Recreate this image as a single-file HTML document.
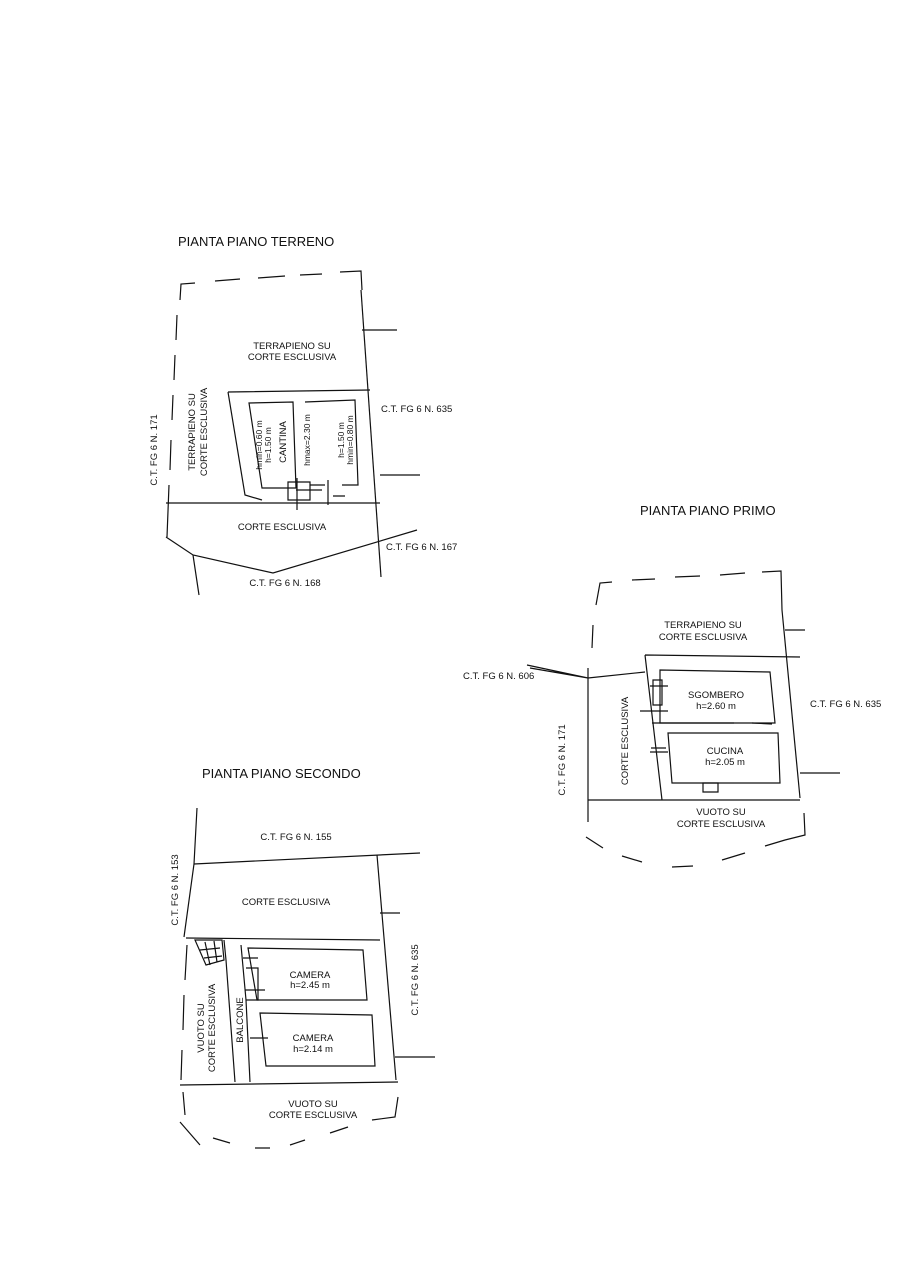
<!DOCTYPE html>
<html><head><meta charset="utf-8"><style>
html,body{margin:0;padding:0;background:#fff;}
svg{display:block}
text{font-family:"Liberation Sans",Arial,sans-serif;fill:#111;}
.s{font-size:9.5px}
.t{font-size:13px}
</style></head><body>
<svg width="904" height="1280" viewBox="0 0 904 1280" xmlns="http://www.w3.org/2000/svg">
<g stroke="#111" stroke-width="1.2" fill="none">
<!-- PLAN 1 -->
<path d="M180,300 L181,284 L195,283" />
<path d="M215,281 L240,279 M258,278 L285,276 M300,275 L322,274 M340,272 L361,271 L362,290"/>
<path d="M177,315 L176,340 M175,355 L174,380 M173,395 L172,420 M171,440 L170,470 M169,485 L167,537"/>
<path d="M361,290 L381,577"/>
<path d="M362,330 L397,330 M380,475 L420,475"/>
<path d="M166,503 L380,503"/>
<path d="M166,537 L193,555 L273,573 L417,530"/>
<path d="M193,555 L199,595"/>
<path d="M228,392 L370,390 M228,392 L245,495 L262,500"/>
<path d="M249,403 L293,402 L296,488 L262,488 Z"/>
<path d="M305,402 L355,400 L358,485 L342,485 M325,485 L310,485 Z"/>
<path d="M288,482 L310,482 L310,500 L288,500 Z M296,490 L322,490"/>
<path d="M297,478 L297,510 M328,480 L328,505 M333,496 L345,496"/>
<!-- PLAN 2 -->
<path d="M596,605 L600,583 L612,582"/>
<path d="M632,580 L655,579 M675,577 L700,576 M720,575 L745,573 M762,572 L781,571 L782,610"/>
<path d="M593,625 L592,648"/>
<path d="M782,610 L800,798"/>
<path d="M785,630 L805,630 M800,773 L840,773"/>
<path d="M588,668 L588,822"/>
<path d="M530,668 L588,678 L645,672 M527,665 L588,678"/>
<path d="M645,655 L800,657 M645,655 L662,800"/>
<path d="M588,800 L800,800"/>
<path d="M660,670 L770,672 L775,723 L660,723 Z"/>
<path d="M652,723 L734,723 M752,723 L772,724"/>
<path d="M668,733 L778,733 L780,783 L672,783 Z"/>
<path d="M653,680 L662,680 L662,705 L653,705 Z M650,686 L668,686 M640,711 L668,711 M651,748 L666,748 M650,752 L668,752"/>
<path d="M703,783 L718,783 L718,792 L703,792 Z"/>
<path d="M586,837 L603,848 M622,856 L642,862 M672,867 L693,866 M722,860 L745,853 M765,846 L785,840 M804,813 L805,835 L785,840"/>
<!-- PLAN 3 -->
<path d="M197,808 L194,864 L184,937"/>
<path d="M194,864 L420,853"/>
<path d="M377,855 L396,1080"/>
<path d="M186,938 L380,940"/>
<path d="M380,913 L400,913 M395,1057 L435,1057"/>
<path d="M187,945 L185,980 M184,995 L183,1030 M182,1050 L181,1080"/>
<path d="M224,940 L226,960 L235,1082"/>
<path d="M195,940 L222,940 L224,960 L206,965 Z M200,950 L220,948 M204,958 L222,956 M205,942 L210,965 M214,941 L217,962"/>
<path d="M180,1085 L398,1082"/>
<path d="M248,948 L363,950 L367,1000 L257,1000 Z"/>
<path d="M260,1013 L372,1015 L375,1066 L266,1066 Z"/>
<path d="M241,945 L246,1000 L250,1082 M243,958 L258,958 M245,990 L265,990 M250,1038 L268,1038"/>
<path d="M246,968 L258,968 L258,1000 L246,1000"/>
<path d="M183,1092 L185,1115 M180,1122 L200,1145 M213,1138 L230,1143 M255,1148 L270,1148 M290,1145 L305,1140 M330,1133 L348,1127 M372,1120 L395,1117 L398,1097"/>
</g>
<!-- labels plan 1 -->
<text class="t" x="178" y="246">PIANTA PIANO TERRENO</text>
<text class="s" x="292" y="349" text-anchor="middle">TERRAPIENO SU</text>
<text class="s" x="292" y="360" text-anchor="middle">CORTE ESCLUSIVA</text>
<text class="s" x="381" y="412">C.T. FG 6 N. 635</text>
<text class="s" x="282" y="530" text-anchor="middle">CORTE ESCLUSIVA</text>
<text class="s" x="386" y="550">C.T. FG 6 N. 167</text>
<text class="s" x="285" y="586" text-anchor="middle">C.T. FG 6 N. 168</text>
<text class="s" transform="translate(157,450) rotate(-90)" text-anchor="middle">C.T. FG 6 N. 171</text>
<text class="s" transform="translate(195,432) rotate(-90)" text-anchor="middle">TERRAPIENO SU</text>
<text class="s" transform="translate(207,432) rotate(-90)" text-anchor="middle">CORTE ESCLUSIVA</text>
<text class="s" style="font-size:8.5px" transform="translate(262,445) rotate(-90)" text-anchor="middle">hmin=0.60 m</text>
<text class="s" style="font-size:8.5px" transform="translate(271,445) rotate(-90)" text-anchor="middle">h=1.50 m</text>
<text class="s" transform="translate(286,442) rotate(-90)" text-anchor="middle">CANTINA</text>
<text class="s" style="font-size:8.5px" transform="translate(310,440) rotate(-90)" text-anchor="middle">hmax=2.30 m</text>
<text class="s" style="font-size:8.5px" transform="translate(344,440) rotate(-90)" text-anchor="middle">h=1.50 m</text>
<text class="s" style="font-size:8.5px" transform="translate(353,440) rotate(-90)" text-anchor="middle">hmin=0.80 m</text>
<!-- labels plan 2 -->
<text class="t" x="640" y="515">PIANTA PIANO PRIMO</text>
<text class="s" x="703" y="628" text-anchor="middle">TERRAPIENO SU</text>
<text class="s" x="703" y="640" text-anchor="middle">CORTE ESCLUSIVA</text>
<text class="s" x="463" y="679">C.T. FG 6 N. 606</text>
<text class="s" x="716" y="698" text-anchor="middle">SGOMBERO</text>
<text class="s" x="716" y="709" text-anchor="middle">h=2.60 m</text>
<text class="s" x="810" y="707">C.T. FG 6 N. 635</text>
<text class="s" x="725" y="754" text-anchor="middle">CUCINA</text>
<text class="s" x="725" y="765" text-anchor="middle">h=2.05 m</text>
<text class="s" transform="translate(565,760) rotate(-90)" text-anchor="middle">C.T. FG 6 N. 171</text>
<text class="s" transform="translate(628,741) rotate(-90)" text-anchor="middle">CORTE ESCLUSIVA</text>
<text class="s" x="721" y="815" text-anchor="middle">VUOTO SU</text>
<text class="s" x="721" y="827" text-anchor="middle">CORTE ESCLUSIVA</text>
<!-- labels plan 3 -->
<text class="t" x="202" y="778">PIANTA PIANO SECONDO</text>
<text class="s" x="296" y="840" text-anchor="middle">C.T. FG 6 N. 155</text>
<text class="s" x="286" y="905" text-anchor="middle">CORTE ESCLUSIVA</text>
<text class="s" transform="translate(178,890) rotate(-90)" text-anchor="middle">C.T. FG 6 N. 153</text>
<text class="s" transform="translate(418,980) rotate(-90)" text-anchor="middle">C.T. FG 6 N. 635</text>
<text class="s" x="310" y="978" text-anchor="middle">CAMERA</text>
<text class="s" x="310" y="988" text-anchor="middle">h=2.45 m</text>
<text class="s" x="313" y="1041" text-anchor="middle">CAMERA</text>
<text class="s" x="313" y="1052" text-anchor="middle">h=2.14 m</text>
<text class="s" transform="translate(243,1020) rotate(-90)" text-anchor="middle">BALCONE</text>
<text class="s" transform="translate(204,1028) rotate(-90)" text-anchor="middle">VUOTO SU</text>
<text class="s" transform="translate(215,1028) rotate(-90)" text-anchor="middle">CORTE ESCLUSIVA</text>
<text class="s" x="313" y="1107" text-anchor="middle">VUOTO SU</text>
<text class="s" x="313" y="1118" text-anchor="middle">CORTE ESCLUSIVA</text>
</svg>
</body></html>
